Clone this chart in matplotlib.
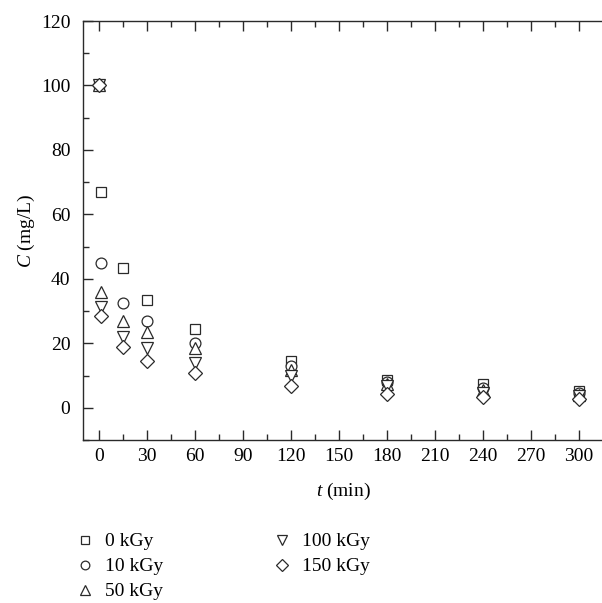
import numpy as np
import matplotlib.pyplot as plt
from matplotlib.ticker import MultipleLocator

# ==========================================
# DATA
# ==========================================
time_min = [0, 1, 15, 30, 60, 120, 180, 240, 300]

dose_labels = ["0 kGy", "10 kGy", "50 kGy", "100 kGy", "150 kGy"]
markers = ["s", "o", "^", "v", "D"]
marker_sizes = [7.2, 7.8, 9.0, 9.0, 7.4]

conc_0kGy = [100, 66.8, 43.4, 33.3, 24.4, 14.5, 8.6, 7.3, 5.2]
conc_10kGy = [100, 44.8, 32.5, 27.0, 20.2, 13.0, 8.0, 6.2, 4.6]
conc_50kGy = [100, 36.0, 27.0, 23.6, 18.6, 11.8, 7.4, 5.5, 4.1]
conc_100kGy = [100, 31.3, 22.1, 18.6, 14.0, 10.0, 6.6, 4.6, 3.5]
conc_150kGy = [100, 28.6, 19.0, 14.6, 10.7, 6.8, 4.3, 3.3, 2.6]

all_series = [conc_0kGy, conc_10kGy, conc_50kGy, conc_100kGy, conc_150kGy]

# ==========================================
# PLOT
# ==========================================
plt.rcParams["font.family"] = ["Liberation Serif", "DejaVu Serif"]
plt.rcParams["mathtext.fontset"] = "custom"
plt.rcParams["mathtext.it"] = "Liberation Serif:italic"
plt.rcParams["mathtext.rm"] = "Liberation Serif"

edge = "#2a2a2a"

fig = plt.figure(figsize=(6.02, 6.03), dpi=100)
ax = fig.add_axes([83 / 602, 163 / 603, 520 / 602, 419 / 603])

handles = []
for series, mk, ms, lab in zip(all_series, markers, marker_sizes, dose_labels):
    h, = ax.plot(time_min, series, linestyle="none", marker=mk, markersize=ms,
                 markerfacecolor="white", markeredgecolor=edge,
                 markeredgewidth=0.9, label=lab)
    handles.append(h)

ax.set_xlim(-10, 315)
ax.set_ylim(-10, 120)

ax.xaxis.set_major_locator(MultipleLocator(30))
ax.xaxis.set_minor_locator(MultipleLocator(15))
ax.yaxis.set_major_locator(MultipleLocator(20))
ax.yaxis.set_minor_locator(MultipleLocator(10))

ax.tick_params(which="both", direction="in", top=True, right=False,
               color=edge, labelsize=14, width=1.0)
ax.tick_params(which="major", length=7)
ax.tick_params(which="minor", length=4)
ax.tick_params(axis="x", pad=6)
ax.tick_params(axis="y", pad=9)

for side in ["left", "bottom", "top"]:
    ax.spines[side].set_color(edge)
    ax.spines[side].set_linewidth(1.0)
ax.spines["right"].set_visible(False)

ax.set_xlabel(r"$t$ (min)", fontsize=14, labelpad=11)
ax.set_ylabel(r"$C$ (mg/L)", fontsize=14, labelpad=3)

fig.legend(handles=handles, loc="upper left", ncol=2,
           bbox_to_anchor=(67 / 602, 1 - 525 / 603), frameon=False,
           fontsize=14, markerscale=0.8, handlelength=1.0, handletextpad=0.55,
           columnspacing=5.6, labelspacing=0.38, borderaxespad=0)

plt.savefig("out.png", dpi=100)
